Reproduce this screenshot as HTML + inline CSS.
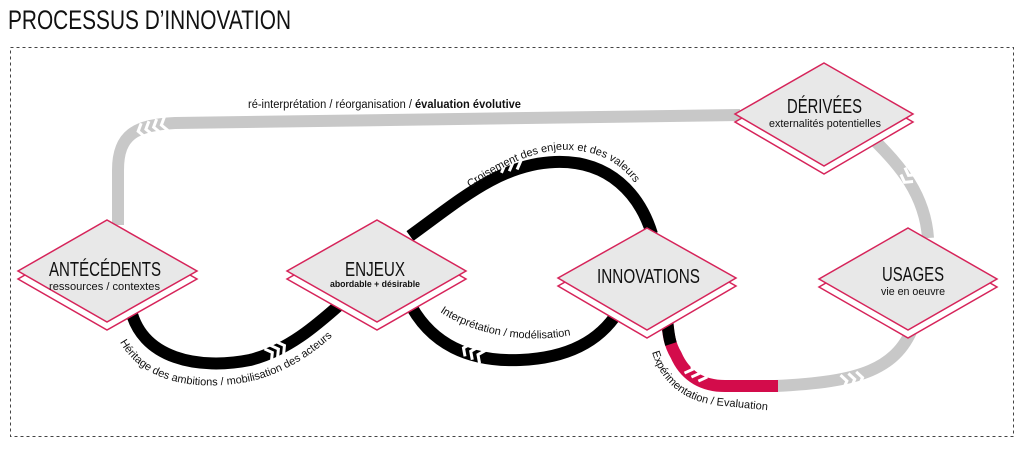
<!DOCTYPE html>
<html><head><meta charset="utf-8"><style>
html,body{margin:0;padding:0;background:#fff;}
svg{display:block;font-family:"Liberation Sans",sans-serif;}
</style></head><body>
<svg width="1024" height="449" viewBox="0 0 1024 449" xmlns="http://www.w3.org/2000/svg">
<text x="8" y="29" font-size="27" fill="#111" textLength="283" lengthAdjust="spacingAndGlyphs">PROCESSUS D’INNOVATION</text>
<rect x="10.5" y="47.5" width="1003" height="389" fill="none" stroke="#444" stroke-dasharray="3,3" stroke-width="1"/>

<g fill="none" stroke-width="12">
<path d="M118,225 L118,170 C118,135 135,125 175,123 L740,115" stroke="#c8c8c8"/>
<path d="M872,138 C900,165 925,195 928,238" stroke="#c8c8c8"/>
<path d="M915,322 C898,370 860,382 775,386" stroke="#c8c8c8"/>
<path d="M667,318 C668,335 670,345 676,355 C686,378 705,386 725,386 L778,386" stroke="#d30c4b"/>
<path d="M667,318 C668,330 669,338 671,344" stroke="#000"/>
<path d="M130,306 C140,360 200,370 250,360 C290,350 320,322 345,300" stroke="#000"/>
<path d="M410,236 C460,200 500,164 555,162 C610,160 640,195 652,234" stroke="#000"/>
<path d="M408,300 C430,345 470,362 520,360 C570,358 600,340 618,312" stroke="#000"/>
</g>

<g fill="none" stroke="#fff" stroke-width="3">
<g transform="translate(268,355) rotate(-30)"><path d="M0,-7 L5,0 L0,7 M7,-7 L12,0 L7,7 M14,-7 L19,0 L14,7"/></g>
<g transform="translate(500,166) rotate(-12)"><path d="M0,-7 L5,0 L0,7 M8,-7 L13,0 L8,7 M16,-7 L21,0 L16,7"/></g>
<g transform="translate(468,350) rotate(25)"><path d="M0,-7 L-5,0 L0,7 M8,-7 L3,0 L8,7 M16,-7 L11,0 L16,7"/></g>
<g transform="translate(688,367) rotate(30)"><path d="M0,-7 L5,0 L0,7 M8,-7 L13,0 L8,7 M16,-7 L21,0 L16,7"/></g>
<g transform="translate(842,382) rotate(-12)"><path d="M0,-7 L5,0 L0,7 M8,-7 L13,0 L8,7 M16,-7 L21,0 L16,7"/></g>
<g transform="translate(907,178) rotate(-60)"><path d="M0,-7 L-5,0 L0,7 M8,-7 L3,0 L8,7 M16,-7 L11,0 L16,7"/></g>
<g transform="translate(143,130) rotate(-15)"><path d="M0,-7 L-5,0 L0,7 M8,-7 L3,0 L8,7 M16,-7 L11,0 L16,7 M24,-7 L19,0 L24,7"/></g>
</g>

<g stroke="#d6245a" stroke-width="1.5">
<path d="M107,228 L197,279 L107,330 L18,279Z" fill="#fff"/>
<path d="M107,220 L197,271 L107,322 L18,271Z" fill="#e8e8e8"/>
<path d="M377,228 L466,279 L377,330 L287,279Z" fill="#fff"/>
<path d="M377,220 L466,271 L377,322 L287,271Z" fill="#e8e8e8"/>
<path d="M647,236 L736,286 L647,338 L558,286Z" fill="#fff"/>
<path d="M647,228 L736,278 L647,330 L558,278Z" fill="#e8e8e8"/>
<path d="M824,71 L913,122 L824,174 L735,122Z" fill="#fff"/>
<path d="M824,63 L913,114 L824,166 L735,114Z" fill="#e8e8e8"/>
<path d="M908,236 L997,287 L908,338 L819,287Z" fill="#fff"/>
<path d="M908,228 L997,279 L908,330 L819,279Z" fill="#e8e8e8"/>
</g>

<g fill="#111">
<text x="49" y="276" font-size="20" textLength="112" lengthAdjust="spacingAndGlyphs">ANTÉCÉDENTS</text>
<text x="49" y="290" font-size="11" textLength="111" lengthAdjust="spacingAndGlyphs">ressources / contextes</text>
<text x="345" y="276" font-size="20" textLength="60" lengthAdjust="spacingAndGlyphs">ENJEUX</text>
<text x="330" y="287" font-size="9.5" font-weight="bold" textLength="90" lengthAdjust="spacingAndGlyphs">abordable + désirable</text>
<text x="597" y="283" font-size="20" textLength="103" lengthAdjust="spacingAndGlyphs">INNOVATIONS</text>
<text x="787" y="113" font-size="20" textLength="75" lengthAdjust="spacingAndGlyphs">DÉRIVÉES</text>
<text x="769" y="127" font-size="11" textLength="112" lengthAdjust="spacingAndGlyphs">externalités potentielles</text>
<text x="882" y="281" font-size="20" textLength="62" lengthAdjust="spacingAndGlyphs">USAGES</text>
<text x="881" y="295" font-size="11" textLength="64" lengthAdjust="spacingAndGlyphs">vie en oeuvre</text>
<text x="248" y="108" font-size="11.5" textLength="273" lengthAdjust="spacingAndGlyphs">ré-interprétation / réorganisation / <tspan font-weight="bold">évaluation évolutive</tspan></text>
</g>

<defs>
<path id="p1" d="M120,342 C143,384 200,392 252,381 C292,371 322,347 342,327"/>
<path id="p2" d="M470,188 C510,160 545,148 570,150 C610,152 630,172 642,195"/>
<path id="p3" d="M440,312 C470,332 520,345 572,335"/>
<path id="p4" d="M652,352 C662,387 690,404 725,406 L785,412"/>
</defs>
<g fill="#111" font-size="11">
<text><textPath href="#p1">Héritage des ambitions / mobilisation des acteurs</textPath></text>
<text><textPath href="#p2">Croisement des enjeux et des valeurs</textPath></text>
<text><textPath href="#p3">Interprétation / modélisation</textPath></text>
<text><textPath href="#p4">Expérimentation / Evaluation</textPath></text>
</g>
</svg>
</body></html>
